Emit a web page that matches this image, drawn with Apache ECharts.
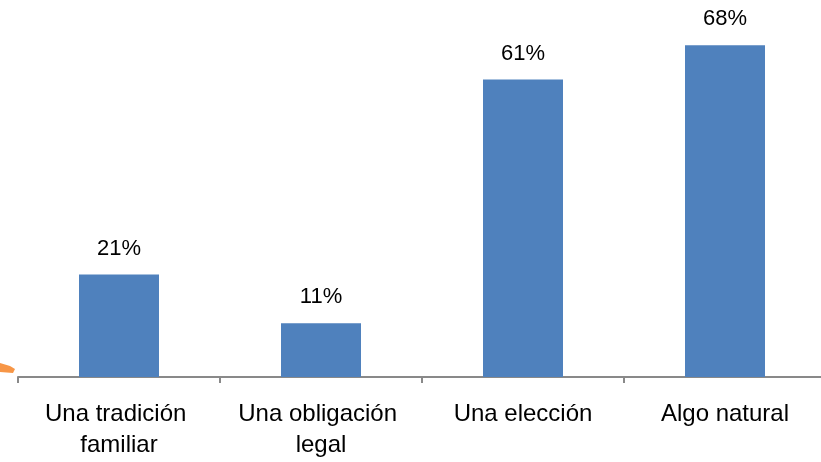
<!DOCTYPE html>
<html>
<head>
<meta charset="utf-8">
<script src="https://cdn.jsdelivr.net/npm/echarts@6/dist/echarts.min.js"></script>
<style>html,body{margin:0;padding:0;background:#fff;overflow:hidden;width:821px;height:462px}#c{width:830px;height:462px}</style>
</head>
<body>
<div id="c"></div>
<script>
const categories = ['Una tradición familiar', 'Una obligación legal', 'Una elección', 'Algo natural'];
const values = [21, 11, 61, 68];

const chart = echarts.init(document.getElementById('c'), null, {renderer: 'canvas'});
chart.setOption({
  animation: false,
  backgroundColor: '#ffffff',
  grid: {left: 18, top: 0, width: 808, height: 377, containLabel: false},
  xAxis: {
    type: 'category',
    data: categories,
    axisLine: {lineStyle: {color: '#898989', width: 2}},
    axisTick: {show: true, length: 6, lineStyle: {color: '#898989', width: 2}},
    axisLabel: {
      interval: 0, margin: 22, color: '#000', fontSize: 24,
      fontFamily: '"Liberation Sans", Arial, sans-serif',
      width: 185, overflow: 'break', lineHeight: 31
    }
  },
  yAxis: {type: 'value', min: 0, max: 77.3, show: false, splitLine: {show: false}},
  series: [{
    type: 'bar',
    data: values,
    barWidth: 80,
    itemStyle: {color: '#4F81BD'},
    label: {
      show: true, position: 'top', distance: 15, color: '#000', fontSize: 22,
      fontFamily: '"Liberation Sans", Arial, sans-serif',
      formatter: p => p.value + '%'
    }
  }],
  graphic: [{
    type: 'polygon',
    shape: {points: [[0, 363], [10, 366], [15, 369], [13, 373], [0, 372]]},
    style: {fill: '#F79646'}
  }]
});
</script>
</body>
</html>
